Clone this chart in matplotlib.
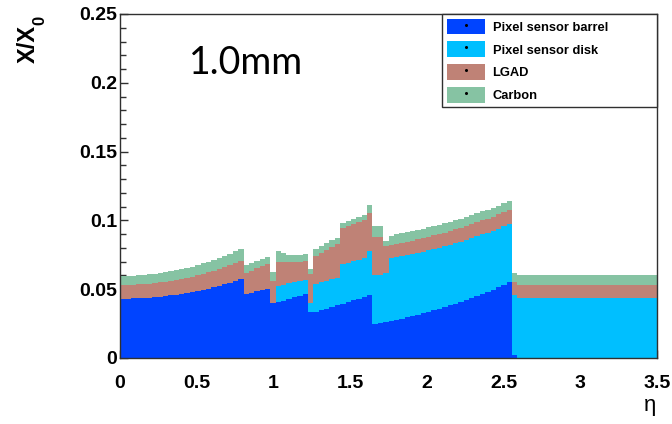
import numpy as np
import matplotlib
matplotlib.use("Agg")
import matplotlib.pyplot as plt
from matplotlib.patches import Patch
from matplotlib.lines import Line2D
from matplotlib.legend_handler import HandlerTuple
from matplotlib.ticker import MultipleLocator

plt.rcParams['font.family'] = ['Liberation Sans', 'DejaVu Sans']

# material budget per eta bin (100 bins, 0 < eta < 3.5)
eta_range = (0.0, 3.5)

pixel_barrel = [
    0.0431, 0.0432, 0.0433, 0.0434, 0.0436, 0.0439, 0.0442, 0.0446, 0.0450, 0.0455,
    0.0460, 0.0466, 0.0473, 0.0480, 0.0488, 0.0496, 0.0505, 0.0514, 0.0524, 0.0535,
    0.0547, 0.0559, 0.0572, 0.0467, 0.0475, 0.0484, 0.0492, 0.0501, 0.0400, 0.0405,
    0.0417, 0.0428, 0.0440, 0.0451, 0.0463, 0.0332, 0.0334, 0.0346, 0.0358, 0.0370,
    0.0382, 0.0394, 0.0406, 0.0418, 0.0430, 0.0442, 0.0455, 0.0246, 0.0253, 0.0261,
    0.0269, 0.0278, 0.0287, 0.0296, 0.0305, 0.0315, 0.0325, 0.0336, 0.0347, 0.0358,
    0.0370, 0.0382, 0.0394, 0.0407, 0.0421, 0.0435, 0.0450, 0.0465, 0.0480, 0.0496,
    0.0513, 0.0531, 0.0549, 0.0020, 0.0000, 0.0000, 0.0000, 0.0000, 0.0000, 0.0000,
    0.0000, 0.0000, 0.0000, 0.0000, 0.0000, 0.0000, 0.0000, 0.0000, 0.0000, 0.0000,
    0.0000, 0.0000, 0.0000, 0.0000, 0.0000, 0.0000, 0.0000, 0.0000, 0.0000, 0.0000,
]

pixel_disk = [
    0.0000, 0.0000, 0.0000, 0.0000, 0.0000, 0.0000, 0.0000, 0.0000, 0.0000, 0.0000,
    0.0000, 0.0000, 0.0000, 0.0000, 0.0000, 0.0000, 0.0000, 0.0000, 0.0000, 0.0000,
    0.0000, 0.0000, 0.0000, 0.0000, 0.0000, 0.0000, 0.0000, 0.0000, 0.0000, 0.0120,
    0.0116, 0.0114, 0.0110, 0.0108, 0.0104, 0.0065, 0.0203, 0.0203, 0.0202, 0.0202,
    0.0202, 0.0288, 0.0287, 0.0286, 0.0285, 0.0284, 0.0323, 0.0357, 0.0352, 0.0356,
    0.0455, 0.0454, 0.0453, 0.0452, 0.0451, 0.0450, 0.0448, 0.0447, 0.0446, 0.0445,
    0.0443, 0.0442, 0.0441, 0.0439, 0.0438, 0.0436, 0.0435, 0.0433, 0.0431, 0.0429,
    0.0427, 0.0425, 0.0423, 0.0438, 0.0434, 0.0434, 0.0434, 0.0434, 0.0434, 0.0434,
    0.0434, 0.0434, 0.0434, 0.0434, 0.0434, 0.0434, 0.0434, 0.0434, 0.0434, 0.0434,
    0.0434, 0.0434, 0.0434, 0.0434, 0.0434, 0.0434, 0.0434, 0.0434, 0.0434, 0.0434,
]

lgad = [
    0.0100, 0.0100, 0.0100, 0.0101, 0.0101, 0.0102, 0.0103, 0.0103, 0.0104, 0.0106,
    0.0107, 0.0108, 0.0110, 0.0111, 0.0113, 0.0115, 0.0117, 0.0119, 0.0122, 0.0124,
    0.0127, 0.0130, 0.0133, 0.0150, 0.0158, 0.0167, 0.0175, 0.0184, 0.0160, 0.0175,
    0.0164, 0.0153, 0.0147, 0.0141, 0.0138, 0.0215, 0.0205, 0.0215, 0.0226, 0.0236,
    0.0244, 0.0263, 0.0267, 0.0271, 0.0275, 0.0277, 0.0274, 0.0277, 0.0277, 0.0200,
    0.0096, 0.0096, 0.0097, 0.0097, 0.0097, 0.0098, 0.0098, 0.0098, 0.0099, 0.0099,
    0.0099, 0.0100, 0.0100, 0.0100, 0.0101, 0.0101, 0.0102, 0.0102, 0.0102, 0.0103,
    0.0103, 0.0104, 0.0104, 0.0097, 0.0100, 0.0100, 0.0100, 0.0100, 0.0100, 0.0100,
    0.0100, 0.0100, 0.0100, 0.0100, 0.0100, 0.0100, 0.0100, 0.0100, 0.0100, 0.0100,
    0.0100, 0.0100, 0.0100, 0.0100, 0.0100, 0.0100, 0.0100, 0.0100, 0.0100, 0.0100,
]

carbon = [
    0.0066, 0.0066, 0.0066, 0.0066, 0.0067, 0.0067, 0.0068, 0.0068, 0.0069, 0.0070,
    0.0071, 0.0071, 0.0072, 0.0073, 0.0075, 0.0076, 0.0077, 0.0079, 0.0080, 0.0082,
    0.0084, 0.0086, 0.0088, 0.0062, 0.0059, 0.0055, 0.0052, 0.0049, 0.0065, 0.0075,
    0.0065, 0.0057, 0.0051, 0.0050, 0.0050, 0.0033, 0.0053, 0.0051, 0.0049, 0.0047,
    0.0044, 0.0035, 0.0035, 0.0035, 0.0035, 0.0035, 0.0058, 0.0080, 0.0078, 0.0030,
    0.0070, 0.0070, 0.0070, 0.0069, 0.0069, 0.0069, 0.0069, 0.0068, 0.0068, 0.0068,
    0.0068, 0.0067, 0.0067, 0.0067, 0.0067, 0.0066, 0.0066, 0.0066, 0.0066, 0.0065,
    0.0065, 0.0065, 0.0064, 0.0061, 0.0070, 0.0070, 0.0070, 0.0070, 0.0070, 0.0070,
    0.0070, 0.0070, 0.0070, 0.0070, 0.0070, 0.0070, 0.0070, 0.0070, 0.0070, 0.0070,
    0.0070, 0.0070, 0.0070, 0.0070, 0.0070, 0.0070, 0.0070, 0.0070, 0.0070, 0.0070,
]

series_names = ["Pixel sensor barrel", "Pixel sensor disk", "LGAD", "Carbon"]
series_colors = ["#0044FF", "#00BFFF", "#BF8276", "#86C3A3"]

x_ticks = [0, 0.5, 1, 1.5, 2, 2.5, 3, 3.5]
x_tick_labels = ["0", "0.5", "1", "1.5", "2", "2.5", "3", "3.5"]
y_ticks = [0, 0.05, 0.1, 0.15, 0.2, 0.25]
y_tick_labels = ["0", "0.05", "0.1", "0.15", "0.2", "0.25"]

fig = plt.figure(figsize=(6.72, 4.24), dpi=100)
ax = fig.add_axes([120 / 672, 66 / 424, 537 / 672, 344 / 424])

edges = np.linspace(eta_range[0], eta_range[1], len(pixel_barrel) + 1)
bottom = np.zeros(len(pixel_barrel))
for vals, color in zip([pixel_barrel, pixel_disk, lgad, carbon], series_colors):
    top = bottom + np.asarray(vals)
    ax.stairs(top, edges, baseline=bottom, fill=True, color=color,
              linewidth=0, zorder=3)
    bottom = top

ax.set_xlim(*eta_range)
ax.set_ylim(0, 0.25)
ax.set_xticks(x_ticks, x_tick_labels)
ax.set_yticks(y_ticks, y_tick_labels)
ax.yaxis.set_minor_locator(MultipleLocator(0.01))
ax.tick_params(axis='both', which='both', direction='in', labelsize=14,
               colors='#303030', labelcolor='black')
ax.tick_params(axis='y', which='major', length=6, width=1, pad=2)
ax.tick_params(axis='y', which='minor', length=4, width=1)
ax.tick_params(axis='x', which='major', length=6, width=1, pad=12)
for lab in ax.get_xticklabels() + ax.get_yticklabels():
    lab.set_fontweight('bold')

for sp in ax.spines.values():
    sp.set_color('#303030')
    sp.set_linewidth(1.0)
    sp.set_zorder(4)

# y-axis title X/X0, written bottom-to-top with a lowered "0"
fig.text(28 / 672, 1 - 63 / 424, 'X/X', rotation=90, ha='center',
         va='bottom', fontsize=17, fontweight='bold')
fig.text(40 / 672, 1 - 25 / 424, '0', rotation=90, ha='center',
         va='bottom', fontsize=12, fontweight='bold')
# x-axis title
fig.text(650 / 672, 1 - 406 / 424, 'η', ha='center', va='center', fontsize=16)

# thickness annotation
fig.text(189 / 672, 1 - 74 / 424, '1.0mm', family=['Lato', 'DejaVu Sans'],
         fontsize=27, va='baseline', ha='left')

handles = [
    (Patch(facecolor=c, edgecolor='none'),
     Line2D([], [], marker='o', markersize=1.2, color='black', linestyle=''))
    for c in series_colors
]
leg = ax.legend(handles, series_names,
                handler_map={tuple: HandlerTuple(ndivide=1)},
                loc='upper left', bbox_to_anchor=(0.6, 0.73, 0.4, 0.27),
                mode='expand', borderaxespad=0, fancybox=False,
                prop={'weight': 'bold', 'size': 9.3},
                handlelength=3.0, handleheight=1.5, handletextpad=0.55,
                labelspacing=0.55, borderpad=0.35, framealpha=1)
leg.get_frame().set_edgecolor('#303030')
leg.get_frame().set_linewidth(1.0)
leg.set_zorder(5)

fig.savefig('out.png', dpi=100)
